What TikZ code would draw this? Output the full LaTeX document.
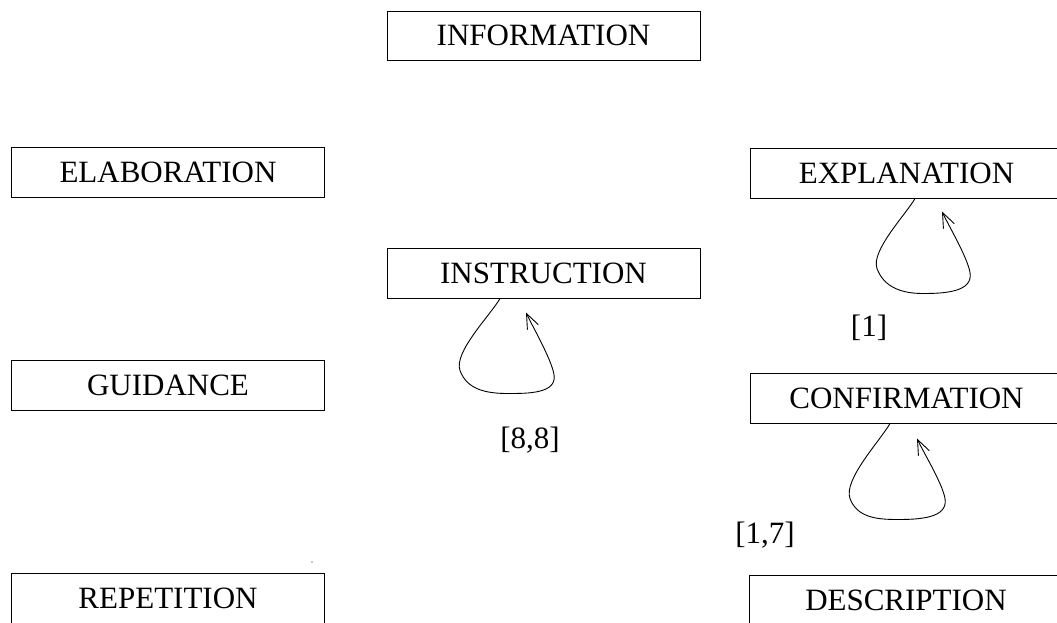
\documentclass[tikz,border=0pt]{standalone}
\usepackage{fontspec}
\setmainfont{Liberation Serif}
\usetikzlibrary{arrows.meta}

\tikzset{
  act/.style={draw, line width=1pt, minimum width=313pt, minimum height=50pt, inner sep=0pt},
  selfloop/.style={->, line width=0.9pt},
}

\begin{document}
\begin{tikzpicture}
  [
    x=1pt, y=1pt,
    >={Straight Barb[length=15pt,width=12pt]},
    font=\fontsize{31}{37}\selectfont,
  ]
  \useasboundingbox (0,0) rectangle (1057,-622);

  \node [act, minimum height=49pt] (info) at (543.5,-35.5) {INFORMATION};
  \node [act] (elab) at (168,-172.5) {ELABORATION};
  \node [act] (expl) at (906.5,-173) {EXPLANATION};
  \node [act] (instr) at (543.5,-273) {INSTRUCTION};
  \node [act] (guid) at (168,-385) {GUIDANCE};
  \node [act] (conf) at (906.5,-398) {CONFIRMATION};
  \node [act] (rep) at (168,-598) {REPETITION};
  \node [act] (desc) at (906,-600) {DESCRIPTION};

  % self loops under the boxes
  \draw [selfloop] ([xshift=-43.5pt]instr.south) to[out=-120,in=110,looseness=0.6] ++(-40,-72)
    to[out=-70,in=180] ++(48,-23) to[out=0,in=-80] ++(46,19) to[out=100,in=-65,looseness=0.6] ++(-28,62);
  \draw [selfloop] ([xshift=8.5pt]expl.south) to[out=-120,in=110,looseness=0.6] ++(-38,-70)
    to[out=-70,in=180] ++(46,-25) to[out=0,in=-80] ++(47,21) to[out=100,in=-65,looseness=0.6] ++(-28,61);
  \draw [selfloop] ([xshift=-16.5pt]conf.south) to[out=-120,in=110,looseness=0.6] ++(-40,-75)
    to[out=-70,in=180] ++(47,-21) to[out=0,in=-80] ++(48,21) to[out=100,in=-65,looseness=0.6] ++(-28,60);

  \node (l88) at (530,-440) {[8,8]};
  \node (l1) at (869,-328) {[1]};
  \node (l17) at (765,-535) {[1,7]};

  \fill (312,-562) circle (0.6pt);
\end{tikzpicture}
\end{document}
